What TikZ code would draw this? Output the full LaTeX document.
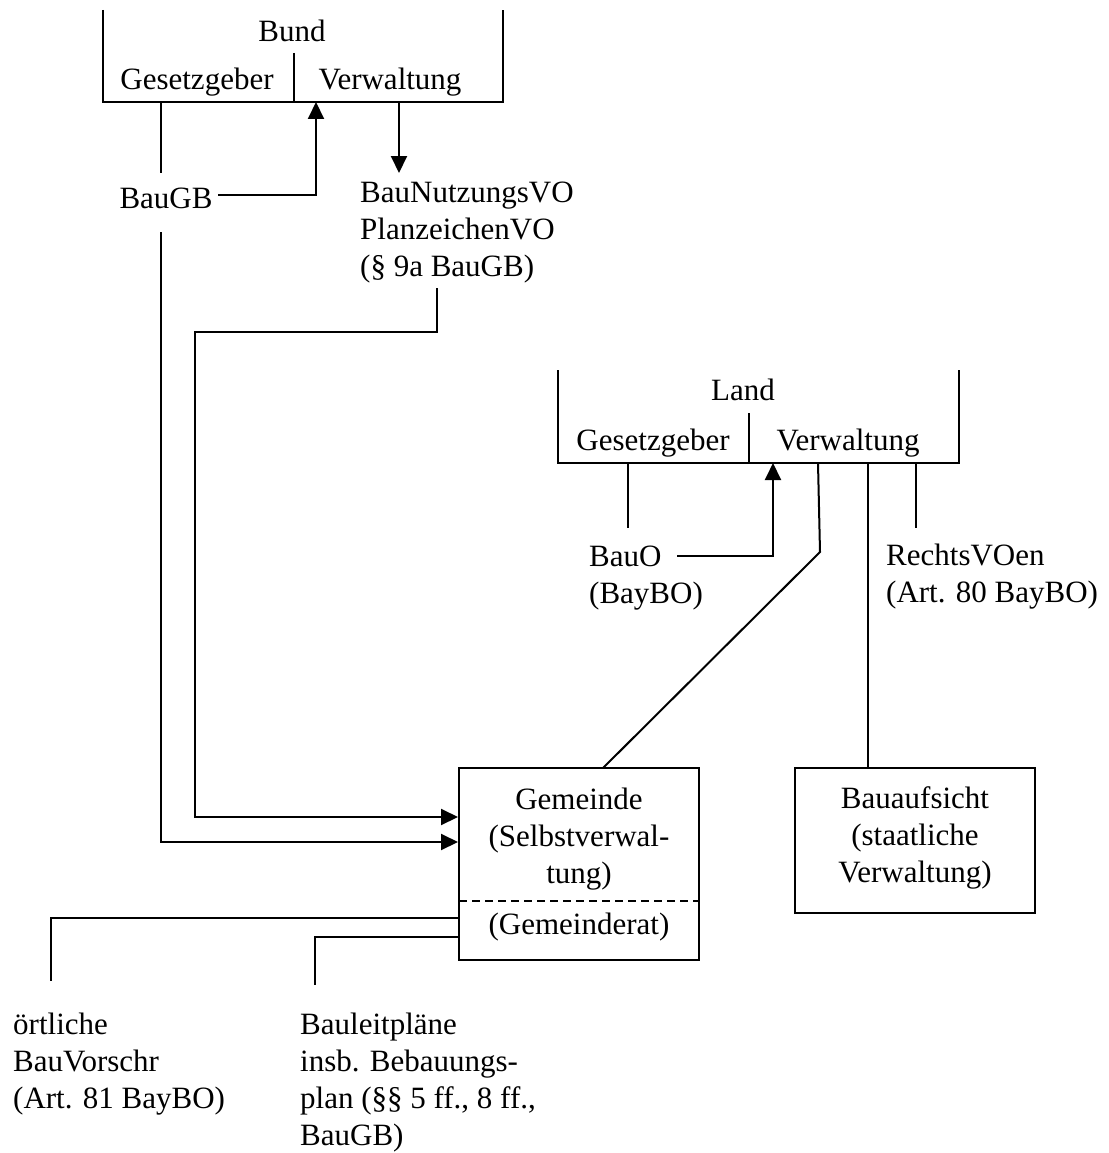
\documentclass[tikz,border=0pt]{standalone}
\usepackage{fontspec}
\setmainfont{Liberation Serif}
\usetikzlibrary{arrows.meta}
\begin{document}
\begin{tikzpicture}[x=1pt,y=-1pt,
  txt/.style={inner sep=0pt,font=\fontsize{31}{37}\selectfont},
  ln/.style={line width=2pt},
  arr/.style={line width=2pt,-{Triangle[length=17pt,width=16pt]}},
  boxst/.style={draw,line width=2pt}]
\useasboundingbox (0,0) rectangle (1108,1153);
% ---------- Bund ----------
\coordinate (bTL) at (103,10);
\coordinate (bBL) at (103,102);
\coordinate (bBR) at (503,102);
\coordinate (bTR) at (503,10);
\draw[ln] (bTL) -- (bBL) -- (bBR) -- (bTR);
\coordinate (bDivT) at (294,53);
\coordinate (bDivB) at (294,102);
\draw[ln] (bDivT) -- (bDivB);
\node[txt] (bund) at (292,31) {Bund};
\node[txt] (bgesetz) at (197,82) {Gesetzgeber};
\node[txt] (bverw) at (390,82) {Verwaltung};
\node[txt] (baugb) at (166,198) {BauGB};
\node[txt,anchor=west,align=left] (baunvo) at (360,233) {BauNutzungsVO\\PlanzeichenVO\\(§ 9a BauGB)};
\coordinate (g1top) at (161,102);
\coordinate (g1bot) at (161,173);
\draw[ln] (g1top) -- (g1bot);
\coordinate (bauarrS) at (218,195);
\coordinate (bauarrC) at (316,195);
\coordinate (bauarrT) at (316,102);
\draw[arr] (bauarrS) -- (bauarrC) -- (bauarrT);
\coordinate (nvoS) at (399,102);
\coordinate (nvoT) at (399,173);
\draw[arr] (nvoS) -- (nvoT);
% ---------- Gemeinde ----------
\node[boxst,minimum width=240pt,minimum height=192pt,inner sep=0pt] (gem) at (579,864) {};
\node[txt,align=center] (gemtxt) at (579,839) {Gemeinde\\(Selbstverwal-\\tung)};
\draw[line width=1.5pt,dash pattern=on 8pt off 5pt] (459,901) -- (699,901);
\node[txt] (gemrat) at (579,927) {(Gemeinderat)};
% connectors into Gemeinde
\coordinate (p1) at (437,288);
\coordinate (p2) at (437,332);
\coordinate (p3) at (195,332);
\coordinate (p4) at (195,817);
\draw[arr] (p1) -- (p2) -- (p3) -- (p4) -- (p4 -| gem.west);
\coordinate (q1) at (161,232);
\coordinate (q2) at (161,842);
\draw[arr] (q1) -- (q2) -- (q2 -| gem.west);
% ---------- Land ----------
\coordinate (lTL) at (558,370);
\coordinate (lBL) at (558,463);
\coordinate (lBR) at (959,463);
\coordinate (lTR) at (959,370);
\draw[ln] (lTL) -- (lBL) -- (lBR) -- (lTR);
\coordinate (lDivT) at (749,413);
\coordinate (lDivB) at (749,463);
\draw[ln] (lDivT) -- (lDivB);
\node[txt] (land) at (743,390) {Land};
\node[txt] (lgesetz) at (653,443) {Gesetzgeber};
\node[txt] (lverw) at (848,443) {Verwaltung};
\node[txt,anchor=west,align=left] (bauo) at (589,578) {BauO\\(BayBO)};
\node[txt,anchor=west,align=left] (rvo) at (886,577) {RechtsVOen\\(Art. 80 BayBO)};
\coordinate (l1top) at (628,463);
\coordinate (l1bot) at (628,528);
\draw[ln] (l1top) -- (l1bot);
\coordinate (boS) at (677,556);
\coordinate (boC) at (773,556);
\coordinate (boT) at (773,463);
\draw[arr] (boS) -- (boC) -- (boT);
\coordinate (v1) at (818,463);
\coordinate (v2) at (820,552);
\coordinate (v3) at (603,768);
\draw[ln] (v1) -- (v2) -- (v3);
\coordinate (r1top) at (916,463);
\coordinate (r1bot) at (916,528);
\draw[ln] (r1top) -- (r1bot);
% ---------- Bauaufsicht ----------
\node[boxst,minimum width=240pt,minimum height=145pt,inner sep=0pt] (baua) at (915,840.5) {};
\node[txt,align=center] (bauatxt) at (915,838) {Bauaufsicht\\(staatliche\\Verwaltung)};
\coordinate (s1) at (868,463);
\draw[ln] (s1) -- (s1 |- baua.north);
% ---------- outputs of Gemeinderat ----------
\node[txt,anchor=west,align=left] (oertl) at (13,1064) {örtliche\\BauVorschr\\(Art. 81 BayBO)};
\node[txt,anchor=west,align=left] (bleit) at (300,1083) {Bauleitpläne\\insb. Bebauungs-\\plan (§§ 5 ff., 8 ff.,\\BauGB)};
\coordinate (o1) at (459,918);
\coordinate (o2) at (51,918);
\coordinate (o3) at (51,981);
\draw[ln] (o1 -| gem.west) -- (o2) -- (o3);
\coordinate (b1) at (459,937);
\coordinate (b2) at (315,937);
\coordinate (b3) at (315,985);
\draw[ln] (b1 -| gem.west) -- (b2) -- (b3);
\end{tikzpicture}
\end{document}
